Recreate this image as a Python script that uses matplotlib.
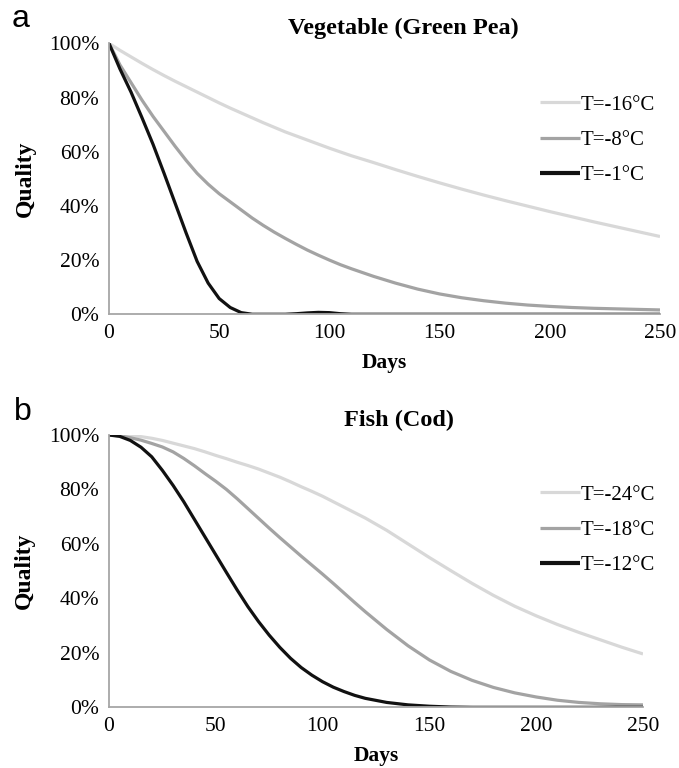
import matplotlib
matplotlib.use("Agg")
import matplotlib.pyplot as plt
from matplotlib.ticker import PercentFormatter

# Vegetable (Green Pea) - quality (%) vs days
veg_days = [0, 5, 10, 15, 20, 25, 30, 35, 40, 45, 50, 55, 60, 65, 70, 75, 80, 85, 90, 95,
            100, 105, 110, 120, 130, 140, 150, 160, 170, 180, 190, 200, 210, 220, 230, 240, 250]
veg_m16 = [100, 97.4, 95, 92.6, 90.3, 88.1, 86, 84, 82, 80, 78, 76.1, 74.3, 72.5, 70.7, 69, 67.3,
           65.8, 64.3, 62.8, 61.3, 59.9, 58.5, 56, 53.4, 50.9, 48.5, 46.2, 44, 41.9, 39.9, 37.9,
           36, 34.1, 32.3, 30.5, 28.7]
veg_m8 = [100, 92, 85.5, 79, 73, 67.5, 62, 56.8, 52, 48, 44.5, 41.5, 38.5, 35.5, 32.8, 30.3, 28,
          25.8, 23.7, 21.8, 20, 18.3, 16.8, 14, 11.5, 9.3, 7.5, 6.1, 5, 4.1, 3.4, 2.9, 2.5, 2.2,
          2, 1.8, 1.6]
veg_m1 = [100, 90.5, 82, 72.5, 62.7, 52, 41, 30, 19.5, 11.5, 5.8, 2.5, 0.6, 0, 0, 0, 0, 0.2,
          0.5, 0.7, 0.6, 0.2, 0, 0, 0, 0, 0, 0, 0, 0, 0, 0, 0, 0, 0, 0, 0]

# Fish (Cod) - quality (%) vs days
fish_days = [0, 5, 10, 15, 20, 25, 30, 35, 40, 45, 50, 55, 60, 65, 70, 75, 80, 85, 90, 95,
             100, 105, 110, 115, 120, 130, 140, 150, 160, 170, 180, 190, 200, 210, 220, 230,
             240, 250]
fish_m24 = [100, 100, 99.8, 99.4, 98.8, 98, 97, 96, 95, 93.8, 92.5, 91.3, 90, 88.8, 87.5, 86,
            84.5, 82.8, 81, 79.3, 77.5, 75.5, 73.5, 71.5, 69.5, 65, 60, 55, 50.2, 45.5, 41.1,
            37.1, 33.6, 30.4, 27.5, 24.8, 22.1, 19.6]
fish_m18 = [100, 99.7, 99, 98.1, 96.9, 95.6, 93.8, 91.4, 88.7, 85.8, 83, 80, 76.6, 73, 69.4, 65.8,
            62.3, 58.9, 55.5, 52.2, 48.9, 45.5, 42, 38.5, 35.1, 28.6, 22.6, 17.4, 13.2, 9.9,
            7.3, 5.3, 3.8, 2.6, 1.8, 1.3, 1, 0.9]
fish_m12 = [100, 99.5, 98, 95.5, 92, 87, 81.5, 75.5, 69, 62.5, 56, 49.5, 43.1, 37, 31.5, 26.5, 22,
            18, 14.6, 11.8, 9.4, 7.4, 5.8, 4.4, 3.3, 1.8, 0.9, 0.4, 0.1, 0, 0, 0, 0, 0, 0, 0, 0, 0]

veg_labels = ["T=-16°C", "T=-8°C", "T=-1°C"]
fish_labels = ["T=-24°C", "T=-18°C", "T=-12°C"]
line_colors = ["#d8d8d8", "#a3a3a3", "#111111"]

plt.rcParams["font.family"] = ["Liberation Serif", "DejaVu Serif"]

fig = plt.figure(figsize=(6.79, 7.68), dpi=100)


def draw_panel(ax, days, series, labels, title, title_x, legend_xy, ylab_x):
    for vals, lab, col in zip(series, labels, line_colors):
        ax.plot(days, vals, color=col, lw=2.3, label=lab, solid_capstyle="butt",
                solid_joinstyle="round")
    ax.set_xlim(0, 250)
    ax.set_ylim(0, 100)
    ax.set_xticks([0, 50, 100, 150, 200, 250])
    ax.set_yticks([0, 20, 40, 60, 80, 100])
    ax.yaxis.set_major_formatter(PercentFormatter(decimals=0))
    ax.tick_params(length=0, labelsize=15.5)
    ax.tick_params(axis="y", pad=7)
    ax.tick_params(axis="x", pad=7)
    for side in ["top", "right"]:
        ax.spines[side].set_visible(False)
    for side in ["left", "bottom"]:
        ax.spines[side].set_color("#a6a6a6")
        ax.spines[side].set_linewidth(1.3)
    ax.text(title_x, 1.055, title, transform=ax.transAxes, fontsize=17.5,
            fontweight="bold", ha="center", va="center")
    ax.set_xlabel("Days", fontsize=15.5, fontweight="bold", va="center")
    ax.xaxis.set_label_coords(0.5, -0.18)
    ax.set_ylabel("Quality", fontsize=17, fontweight="bold", va="center")
    ax.yaxis.set_label_coords(ylab_x, 0.5)
    leg = ax.legend(loc="upper left", bbox_to_anchor=legend_xy, frameon=False,
                    fontsize=15, handlelength=1.92, handletextpad=0.05,
                    labelspacing=0.75, borderpad=0, borderaxespad=0)
    leg.get_lines()[2].set_linewidth(3.0)


ax1 = fig.add_axes([0.1605, 0.5908, 0.8115, 0.3528])
draw_panel(ax1, veg_days, [veg_m16, veg_m8, veg_m1], veg_labels,
           "Vegetable (Green Pea)", 0.535, (0.782, 0.809), -0.152)
ax2 = fig.add_axes([0.1605, 0.0790, 0.7865, 0.3546])
draw_panel(ax2, fish_days, [fish_m24, fish_m18, fish_m12], fish_labels,
           "Fish (Cod)", 0.543, (0.807, 0.816), -0.159)

fig.text(0.017, 0.975, "a", fontsize=23, family="Liberation Sans", va="center")
fig.text(0.021, 0.463, "b", fontsize=23, family="Liberation Sans", va="center")

fig.savefig("out.png", dpi=100)
